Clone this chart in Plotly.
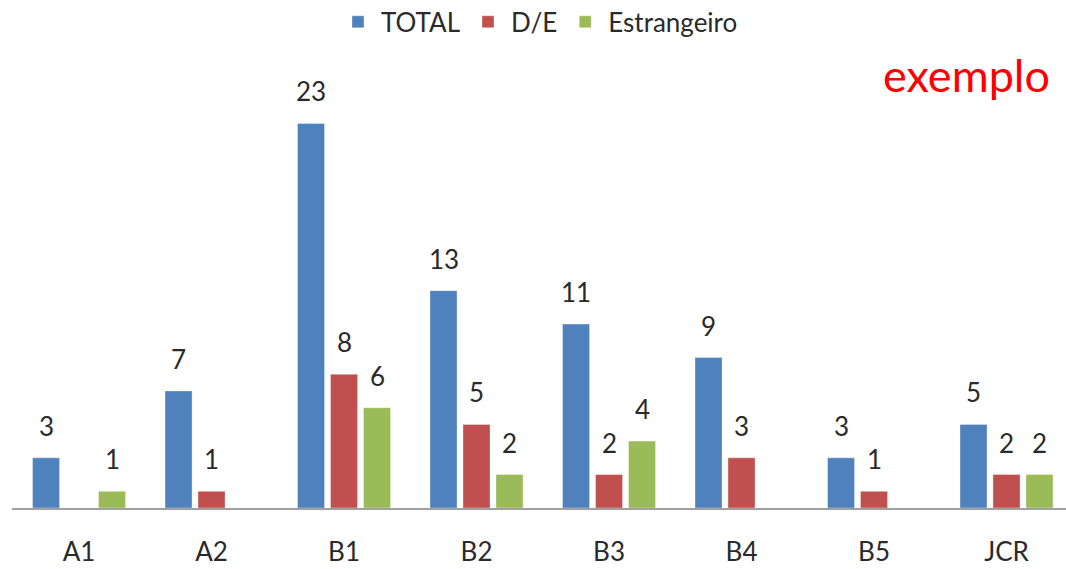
import plotly.graph_objects as go

categories = ["A1", "A2", "B1", "B2", "B3", "B4", "B5", "JCR"]
series_names = ["TOTAL", "D/E", "Estrangeiro"]
total = [3, 7, 23, 13, 11, 9, 3, 5]
de = [None, 1, 8, 5, 2, 3, 1, 2]
estrangeiro = [1, None, 6, 2, 4, None, None, 2]

colors = ["#4F81BD", "#C0504D", "#9BBB59"]
FONT = "Lato"
TXT = "#2A2A2A"

fig = go.Figure()
all_series = [total, de, estrangeiro]
for name, vals, col in zip(series_names, all_series, colors):
    fig.add_trace(go.Bar(
        x=categories, y=vals, name=name,
        marker=dict(color=col, line=dict(color="rgba(255,255,255,0.35)", width=1)),
    ))

slot_px = 33
annotations = []
for si, vals in enumerate(all_series):
    for cat, v in zip(categories, vals):
        if v is None:
            continue
        annotations.append(dict(
            x=cat, y=v, xref="x", yref="y", text=str(v), showarrow=False,
            xanchor="center", yanchor="bottom", xshift=(si - 1) * slot_px, yshift=14,
            font=dict(family=FONT, size=26, color=TXT),
        ))

annotations.append(dict(
    x=0.906, y=1.035, xref="paper", yref="paper", text="exemplo", showarrow=False,
    xanchor="center", yanchor="middle", font=dict(family=FONT, size=45, color="#FF0000"),
))

fig.update_layout(
    width=1066, height=569,
    margin=dict(l=12, r=0, t=90, b=61, autoexpand=False),
    paper_bgcolor="white", plot_bgcolor="white",
    barmode="group", bargap=0.253, bargroupgap=0.18,
    font=dict(family=FONT, size=26, color=TXT),
    showlegend=True,
    legend=dict(orientation="h", x=0.5, xanchor="center", y=1.163,
                yanchor="middle", font=dict(family=FONT, size=26, color=TXT),
                itemwidth=36, bgcolor="rgba(0,0,0,0)"),
    annotations=annotations,
)
fig.update_xaxes(range=[-0.506, 7.449], showline=True, linecolor="#A0A0A0", linewidth=1.5,
                 ticks="outside", ticklen=20, tickcolor="rgba(0,0,0,0)", automargin=False,
                 tickfont=dict(family=FONT, size=26, color=TXT), showgrid=False)
fig.update_yaxes(range=[0, 25], visible=False, showgrid=False, zeroline=False, automargin=False)

fig.write_html("out.html", config={"displayModeBar": False},
               post_script="document.body.style.margin='0';")
